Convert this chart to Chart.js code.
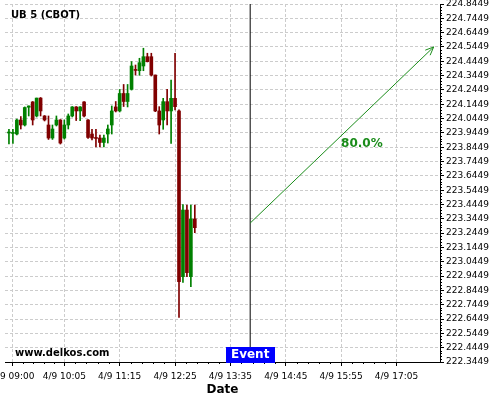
<!DOCTYPE html>
<html>
<head>
<meta charset="utf-8">
<script src="https://cdn.jsdelivr.net/npm/chart.js@4.4.1/dist/chart.umd.min.js"></script>
<style>
  html, body { margin: 0; padding: 0; background: #fff; }
  #wrap { width: 500px; height: 400px; }
</style>
</head>
<body>
<div id="wrap"><canvas id="candleChart" width="500" height="400"></canvas></div>
<script>
// UB 5 (CBOT), 5 minute candles on 4/9
const times = ['08:55','09:00','09:05','09:10','09:15','09:20','09:25','09:30','09:35','09:40','09:45','09:50',
  '09:55','10:00','10:05','10:10','10:15','10:20','10:25','10:30','10:35','10:40','10:45','10:50',
  '10:55','11:00','11:05','11:10','11:15','11:20','11:25','11:30','11:35','11:40','11:45','11:50',
  '11:55','12:00','12:05','12:10','12:15','12:20','12:25','12:30','12:35','12:40','12:45','12:50'];
const opens = [223.944,223.941,223.937,224.035,224.000,224.124,224.161,224.063,224.188,224.063,224.000,223.909,
  224.000,224.035,223.909,224.000,224.063,224.126,224.098,224.161,224.035,223.937,223.913,223.909,
  223.878,223.937,224.000,224.126,224.098,224.220,224.164,224.249,224.384,224.379,224.412,224.477,
  224.477,224.349,224.098,224.035,224.163,224.098,224.186,224.098,222.941,223.406,222.941,223.344];
const highs = [223.970,223.969,224.042,224.059,224.126,224.133,224.164,224.188,224.192,224.066,224.063,224.000,
  224.063,224.038,224.035,224.077,224.129,224.129,224.129,224.164,224.038,223.969,223.969,223.930,
  223.930,224.000,224.133,224.164,224.248,224.283,224.283,224.443,224.419,224.466,224.536,224.501,
  224.501,224.349,224.128,224.186,224.249,224.314,224.501,224.105,223.445,223.441,223.441,223.441];
const lows = [223.867,223.871,223.930,223.972,223.993,224.063,224.000,224.056,224.063,224.028,223.899,223.899,
  223.993,223.867,223.902,223.972,224.056,224.031,224.031,224.056,223.906,223.895,223.846,223.846,
  223.846,223.874,223.937,224.091,224.091,224.129,224.126,224.244,224.349,224.347,224.379,224.440,
  224.342,224.093,223.937,223.970,224.000,223.872,224.105,222.657,222.900,222.941,222.871,223.248];
const closes = [223.951,223.948,224.035,224.000,224.122,224.133,224.035,224.188,224.098,224.035,223.909,223.972,
  224.035,223.874,224.000,224.063,224.126,224.098,224.126,224.063,223.913,223.909,223.906,223.878,
  223.909,223.972,224.098,224.098,224.220,224.164,224.220,224.412,224.381,224.435,224.477,224.442,
  224.349,224.098,224.000,224.163,224.098,224.186,224.128,222.906,223.406,222.969,223.344,223.283];

const eventTime = '14:00';
const arrowTimes = ['14:00', '17:52'];
const arrowPrices = [223.315, 224.5449];
const arrowLabel = '80.0%';

const xRange = ['08:50', '18:00'];
const xTickTimes = ['09:00','10:05','11:15','12:25','13:35','14:45','15:55','17:05'];
const xTickLabels = ['4/9 09:00','4/9 10:05','4/9 11:15','4/9 12:25','4/9 13:35','4/9 14:45','4/9 15:55','4/9 17:05'];
const yTicks = [222.3449,222.4449,222.5449,222.6449,222.7449,222.8449,222.9449,223.0449,223.1449,223.2449,
  223.3449,223.4449,223.5449,223.6449,223.7449,223.8449,223.9449,224.0449,224.1449,224.2449,
  224.3449,224.4449,224.5449,224.6449,224.7449,224.8449];

function toMin(t) {
  const [h, m] = t.split(':').map(Number);
  return h * 60 + m;
}

const UP = '#008000', DOWN = '#800000', FORECAST = '#1a8c1a';
const candleColors = opens.map((o, i) => closes[i] >= o ? UP : DOWN);

Chart.defaults.font.family = "'DejaVu Sans', sans-serif";

const overlay = {
  id: 'overlay',
  afterDraw(chart) {
    const { ctx, chartArea: a, scales: { x, y } } = chart;
    ctx.save();

    // minor ticks on both axes
    ctx.strokeStyle = '#000';
    ctx.lineWidth = 1;
    ctx.beginPath();
    for (let i = 0; i < yTicks.length - 1; i++) {
      for (let j = 1; j < 5; j++) {
        const py = Math.round(y.getPixelForValue(yTicks[i] + (yTicks[i + 1] - yTicks[i]) * j / 5)) + 0.5;
        ctx.moveTo(a.right, py);
        ctx.lineTo(a.right + 2, py);
      }
    }
    for (let i = 0; i < xTickTimes.length - 1; i++) {
      const t0 = toMin(xTickTimes[i]), t1 = toMin(xTickTimes[i + 1]);
      for (let j = 1; j < 5; j++) {
        const px = Math.round(x.getPixelForValue(t0 + (t1 - t0) * j / 5)) + 0.5;
        ctx.moveTo(px, a.bottom);
        ctx.lineTo(px, a.bottom + 2);
      }
    }
    ctx.stroke();

    // arrow head
    const p1 = { x: x.getPixelForValue(toMin(arrowTimes[0])), y: y.getPixelForValue(arrowPrices[0]) };
    const p2 = { x: x.getPixelForValue(toMin(arrowTimes[1])), y: y.getPixelForValue(arrowPrices[1]) };
    const ang = Math.atan2(p2.y - p1.y, p2.x - p1.x);
    ctx.strokeStyle = FORECAST;
    ctx.beginPath();
    ctx.moveTo(p2.x - 9 * Math.cos(ang - 0.4), p2.y - 9 * Math.sin(ang - 0.4));
    ctx.lineTo(p2.x, p2.y);
    ctx.lineTo(p2.x - 9 * Math.cos(ang + 0.4), p2.y - 9 * Math.sin(ang + 0.4));
    ctx.stroke();

    ctx.fillStyle = FORECAST;
    ctx.font = "bold 12px 'DejaVu Sans'";
    ctx.textAlign = 'center';
    ctx.textBaseline = 'middle';
    ctx.fillText(arrowLabel, (p1.x + p2.x) / 2 + 20, (p1.y + p2.y) / 2 + 9);

    // event marker label
    const ex = x.getPixelForValue(toMin(eventTime));
    ctx.fillStyle = '#0000ff';
    ctx.fillRect(Math.round(ex) - 24, a.bottom - 15, 49, 16);
    ctx.fillStyle = '#fff';
    ctx.fillText('Event', ex, a.bottom - 7);

    // title and site
    ctx.fillStyle = '#000';
    ctx.textAlign = 'left';
    ctx.font = "bold 10px 'DejaVu Sans'";
    ctx.fillText('UB 5 (CBOT)', a.left + 6, 15);
    ctx.fillText('www.delkos.com', a.left + 10, a.bottom - 9);

    ctx.restore();
  }
};

new Chart(document.getElementById('candleChart'), {
  type: 'bar',
  data: {
    datasets: [{
      type: 'line',
      order: 0,
      data: arrowTimes.map((t, i) => ({ x: toMin(t), y: arrowPrices[i] })),
      borderColor: FORECAST,
      borderWidth: 1,
      pointRadius: 0
    }, {
      type: 'line',
      order: 1,
      data: [{ x: toMin(eventTime), y: yTicks[0] }, { x: toMin(eventTime), y: yTicks[yTicks.length - 1] }],
      borderColor: '#000',
      borderWidth: 1,
      pointRadius: 0
    }, {
      order: 2,
      data: times.map((t, i) => ({ x: toMin(t), y: [opens[i], closes[i]] })),
      backgroundColor: candleColors,
      barThickness: 3,
      minBarLength: 1,
      grouped: false
    }, {
      order: 3,
      data: times.map((t, i) => ({ x: toMin(t), y: [lows[i], highs[i]] })),
      backgroundColor: candleColors,
      barThickness: 1,
      grouped: false
    }]
  },
  options: {
    responsive: false,
    animation: false,
    events: [],
    layout: { padding: { left: 5, top: 4, right: 0, bottom: 0 } },
    plugins: { legend: { display: false }, tooltip: { enabled: false } },
    scales: {
      x: {
        type: 'linear',
        offset: false,
        min: toMin(xRange[0]),
        max: toMin(xRange[1]),
        afterBuildTicks: s => { s.ticks = xTickTimes.map(t => ({ value: toMin(t) })); },
        afterFit: s => { s.height = 38; s.paddingLeft = 0; s.paddingRight = 0; },
        ticks: {
          autoSkip: false, maxRotation: 0, minRotation: 0, padding: 5,
          color: '#000', font: { size: 9 },
          callback: (v, i) => xTickLabels[i]
        },
        grid: { color: '#cccccc', tickColor: '#000', tickLength: 4, tickBorderDash: [], offset: false },
        border: { color: '#000', dash: [3, 2] },
        title: {
          display: true, text: 'Date', color: '#000',
          font: { size: 12, weight: 'bold' }, padding: { top: 0, bottom: 3 }
        }
      },
      y: {
        type: 'linear',
        position: 'right',
        min: yTicks[0],
        max: yTicks[yTicks.length - 1],
        afterBuildTicks: s => { s.ticks = yTicks.map(v => ({ value: v })); },
        afterFit: s => { s.width = 60; s.paddingTop = 0; s.paddingBottom = 0; },
        ticks: {
          autoSkip: false, padding: 2, color: '#000', font: { size: 9 },
          callback: v => v.toFixed(4)
        },
        grid: { color: '#cccccc', tickColor: '#000', tickLength: 4, tickBorderDash: [] },
        border: { color: '#000', dash: [3, 2] }
      }
    }
  },
  plugins: [overlay]
});
</script>
</body>
</html>
